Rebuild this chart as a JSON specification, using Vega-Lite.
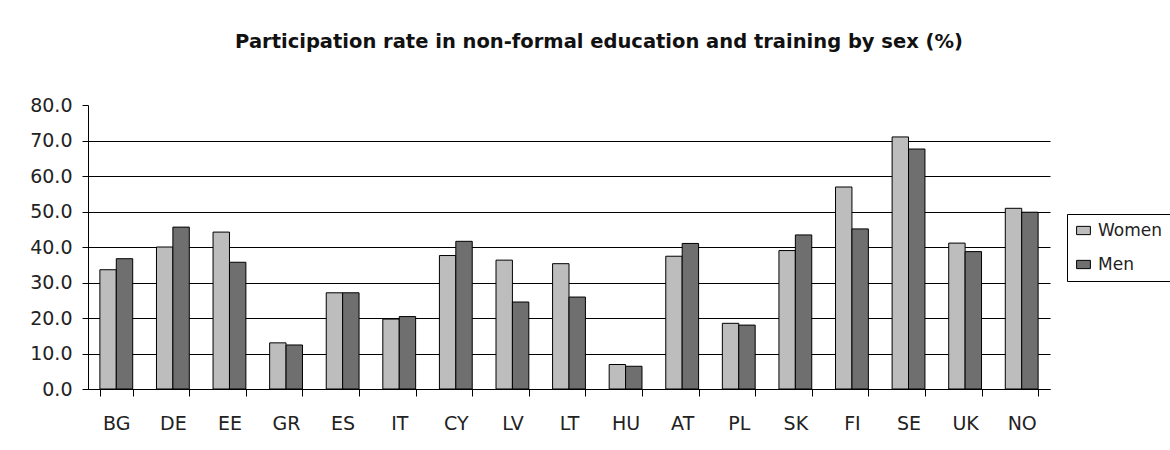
{
  "$schema": "https://vega.github.io/schema/vega-lite/v6.json",
  "width": 962,
  "height": 284,
  "autosize": {"type": "none"},
  "padding": {"left": 88, "top": 105, "right": 120, "bottom": 61},
  "background": "white",
  "title": {
    "text": "Participation rate in non-formal education and training by sex (%)",
    "font": "DejaVu Sans",
    "fontSize": 19.5,
    "fontWeight": "bold",
    "color": "#111",
    "anchor": "middle",
    "baseline": "alphabetic",
    "dx": 30,
    "offset": 29
  },
  "data": {
    "values": [
      {"country": "BG", "sex": "Women", "rate": 33.6}, {"country": "BG", "sex": "Men", "rate": 36.7},
      {"country": "DE", "sex": "Women", "rate": 40.0}, {"country": "DE", "sex": "Men", "rate": 45.6},
      {"country": "EE", "sex": "Women", "rate": 44.2}, {"country": "EE", "sex": "Men", "rate": 35.7},
      {"country": "GR", "sex": "Women", "rate": 13.0}, {"country": "GR", "sex": "Men", "rate": 12.4},
      {"country": "ES", "sex": "Women", "rate": 27.1}, {"country": "ES", "sex": "Men", "rate": 27.1},
      {"country": "IT", "sex": "Women", "rate": 19.7}, {"country": "IT", "sex": "Men", "rate": 20.4},
      {"country": "CY", "sex": "Women", "rate": 37.6}, {"country": "CY", "sex": "Men", "rate": 41.6},
      {"country": "LV", "sex": "Women", "rate": 36.3}, {"country": "LV", "sex": "Men", "rate": 24.5},
      {"country": "LT", "sex": "Women", "rate": 35.3}, {"country": "LT", "sex": "Men", "rate": 25.9},
      {"country": "HU", "sex": "Women", "rate": 6.9}, {"country": "HU", "sex": "Men", "rate": 6.4},
      {"country": "AT", "sex": "Women", "rate": 37.4}, {"country": "AT", "sex": "Men", "rate": 41.0},
      {"country": "PL", "sex": "Women", "rate": 18.5}, {"country": "PL", "sex": "Men", "rate": 18.0},
      {"country": "SK", "sex": "Women", "rate": 39.0}, {"country": "SK", "sex": "Men", "rate": 43.4},
      {"country": "FI", "sex": "Women", "rate": 56.9}, {"country": "FI", "sex": "Men", "rate": 45.1},
      {"country": "SE", "sex": "Women", "rate": 71.0}, {"country": "SE", "sex": "Men", "rate": 67.6},
      {"country": "UK", "sex": "Women", "rate": 41.1}, {"country": "UK", "sex": "Men", "rate": 38.7},
      {"country": "NO", "sex": "Women", "rate": 50.9}, {"country": "NO", "sex": "Men", "rate": 49.8}
    ]
  },
  "mark": {"type": "bar", "stroke": "#000", "strokeWidth": 1},
  "encoding": {
    "x": {
      "field": "country",
      "type": "nominal",
      "sort": null,
      "title": null,
      "scale": {"paddingInner": 0.42, "paddingOuter": 0.21},
      "axis": {
        "labelAngle": 0,
        "tickBand": "extent",
        "tickSize": 7,
        "tickColor": "#000",
        "domainColor": "#000",
        "labelPadding": 18,
        "labelFont": "DejaVu Sans",
        "labelFontSize": 19,
        "labelColor": "#222",
        "grid": false
      }
    },
    "xOffset": {"field": "sex", "type": "nominal", "sort": ["Women", "Men"]},
    "y": {
      "field": "rate",
      "type": "quantitative",
      "title": null,
      "scale": {"domain": [0, 80], "nice": false},
      "axis": {
        "values": [0, 10, 20, 30, 40, 50, 60, 70, 80],
        "format": ".1f",
        "tickSize": 6,
        "tickColor": "#000",
        "domainColor": "#000",
        "labelPadding": 10,
        "labelFont": "DejaVu Sans",
        "labelFontSize": 19,
        "labelColor": "#222",
        "grid": true,
        "gridColor": "#000",
        "gridWidth": 1,
        "gridOpacity": {"condition": {"test": "datum.value === 80", "value": 0}, "value": 1}
      }
    },
    "fill": {
      "field": "sex",
      "type": "nominal",
      "sort": ["Women", "Men"],
      "scale": {"domain": ["Women", "Men"], "range": ["#bdbdbd", "#6f6f6f"]},
      "legend": {
        "title": null,
        "orient": "none",
        "legendX": 979,
        "legendY": 109,
        "direction": "vertical",
        "strokeColor": "#000",
        "fillColor": "#fff",
        "padding": 8,
        "rowPadding": 16,
        "symbolType": "M-1,-0.6H1V0.6H-1Z",
        "symbolSize": 190,
        "symbolStrokeColor": "#000",
        "symbolStrokeWidth": 1,
        "symbolOpacity": 1,
        "labelFont": "DejaVu Sans",
        "labelFontSize": 17,
        "labelColor": "#222",
        "labelOffset": 6
      }
    }
  },
  "config": {"view": {"stroke": null}}
}
